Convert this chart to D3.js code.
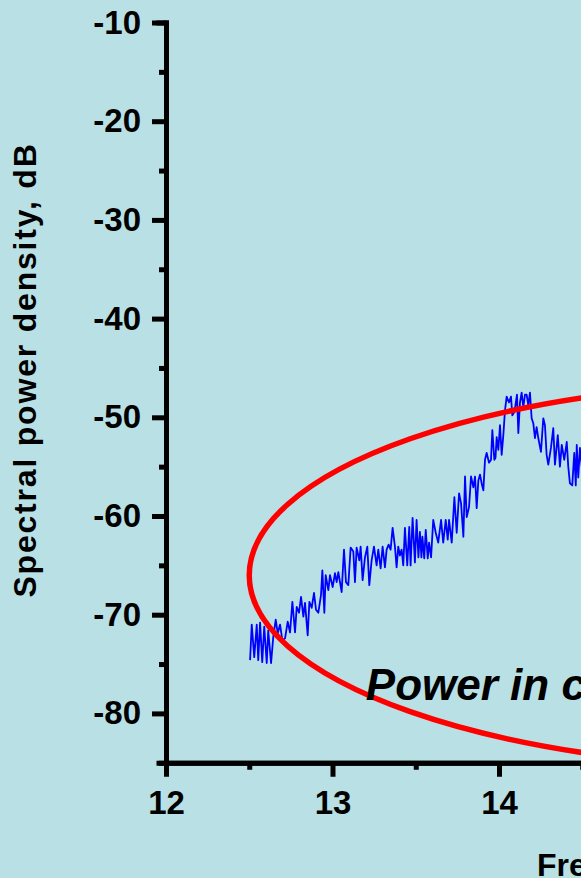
<!DOCTYPE html>
<html>
<head>
<meta charset="utf-8">
<script src="https://cdn.jsdelivr.net/npm/d3@7"></script>
<style>
  body { margin: 0; background: #b9e0e4; overflow: hidden; }
  svg { display: block; background: #b9e0e4; }
  text { font-family: "Liberation Sans", Arial, sans-serif; font-weight: bold; fill: #000; }
</style>
</head>
<body>
<div id="chart"></div>
<script>
// spectrum trace (GHz, dB)
var freqGHz = [
  12.505, 12.515, 12.530, 12.545, 12.554, 12.565, 12.578, 12.590, 12.605, 12.614,
  12.631, 12.644, 12.659, 12.671, 12.685, 12.699, 12.715, 12.731, 12.745, 12.759,
  12.775, 12.785, 12.799, 12.811, 12.825, 12.835, 12.851, 12.861, 12.875, 12.889,
  12.901, 12.915, 12.931, 12.939, 12.951, 12.959, 12.975, 12.985, 13.001, 13.015,
  13.025, 13.035, 13.055, 13.069, 13.081, 13.095, 13.109, 13.125, 13.135, 13.145,
  13.161, 13.169, 13.181, 13.195, 13.209, 13.221, 13.235, 13.249, 13.265, 13.275,
  13.289, 13.301, 13.315, 13.325, 13.337, 13.349, 13.361, 13.375, 13.385, 13.395,
  13.405, 13.415, 13.425, 13.435, 13.449, 13.461, 13.469, 13.481, 13.495, 13.505,
  13.516, 13.525, 13.534, 13.540, 13.551, 13.560, 13.572, 13.580, 13.592, 13.605,
  13.620, 13.635, 13.652, 13.665, 13.680, 13.692, 13.700, 13.716, 13.732, 13.746,
  13.760, 13.772, 13.786, 13.796, 13.806, 13.820, 13.832, 13.846, 13.856, 13.866,
  13.876, 13.886, 13.896, 13.906, 13.916, 13.926, 13.940, 13.952, 13.960, 13.972,
  13.979, 13.986, 13.996, 14.006, 14.016, 14.026, 14.036, 14.046, 14.060, 14.072,
  14.080, 14.088, 14.096, 14.108, 14.116, 14.126, 14.136, 14.146, 14.156, 14.166,
  14.176, 14.186, 14.196, 14.206, 14.216, 14.226, 14.236, 14.252, 14.266, 14.276,
  14.286, 14.296, 14.312, 14.326, 14.336, 14.353, 14.366, 14.377, 14.392, 14.407,
  14.416, 14.426, 14.440, 14.452, 14.461, 14.467, 14.476, 14.486, 14.499
];
var psdDB = [
  -74.6, -71.0, -74.3, -71.0, -74.6, -70.8, -74.8, -71.2, -74.9, -71.6,
  -74.9, -72.3, -70.5, -71.9, -71.0, -72.6, -72.4, -70.7, -71.8, -68.7,
  -71.8, -69.2, -69.8, -68.2, -70.2, -68.8, -72.1, -68.7, -69.3, -67.8,
  -69.5, -69.8, -68.0, -65.5, -69.8, -66.0, -67.5, -66.0, -67.2, -65.8,
  -66.7, -65.7, -67.7, -63.4, -66.7, -67.0, -63.2, -63.6, -66.7, -63.2,
  -64.5, -63.1, -66.5, -64.2, -63.1, -67.0, -64.5, -63.1, -65.0, -63.4,
  -65.3, -63.1, -65.2, -63.4, -62.9, -63.4, -61.2, -63.1, -65.2, -63.1,
  -64.0, -63.4, -65.0, -61.2, -65.0, -61.1, -65.0, -60.2, -64.7, -60.4,
  -64.2, -61.6, -64.2, -62.1, -64.3, -61.4, -64.3, -62.7, -64.2, -60.4,
  -61.7, -62.7, -60.4, -62.7, -60.4, -62.4, -60.4, -62.7, -58.1, -61.7,
  -57.7, -58.7, -62.1, -56.0, -60.1, -59.1, -56.0, -57.1, -56.0, -59.2,
  -56.4, -55.8, -56.7, -57.4, -54.3, -53.6, -54.6, -54.3, -51.3, -54.3,
  -54.1, -52.0, -53.3, -50.8, -53.8, -51.8, -49.3, -47.9, -48.5, -47.9,
  -49.8, -49.6, -49.1, -47.7, -51.6, -48.5, -47.5, -49.0, -47.7, -47.7,
  -48.8, -47.5, -50.1, -50.6, -52.1, -51.0, -52.1, -53.5, -50.1, -50.8,
  -53.8, -54.8, -53.1, -51.1, -54.8, -51.8, -55.0, -52.8, -54.3, -52.5,
  -55.0, -56.7, -56.9, -53.6, -56.9, -52.8, -56.1, -53.1, -55.3
];

var xMajorTicks = [12, 13, 14, 15, 16, 17];
var xMinorTicks = [12.5, 13.5, 14.5, 15.5, 16.5];
var yMajorTicks = [-80, -70, -60, -50, -40, -30, -20, -10];
var yMinorTicks = [-85, -75, -65, -55, -45, -35, -25, -15];

// annotation ellipse (centre in GHz/dB, radii in GHz/dB)
var ellipseCenter = [15.8, -66];
var ellipseRadii = [3.3, 19.55];
var noteText = "Power in carrier";
var noteAt = [13.2, -78.6];

var svgWidth = 581;
var svgHeight = 878;

var margin = {
  top: 22.5,
  left: 166
};

// the plot runs past the right edge of the window (the view is a crop)
var width = 5 * 166.5;
var height = 740.25;

var svg = d3
  .select("#chart")
  .append("svg")
  .attr("width", svgWidth)
  .attr("height", svgHeight);

var chartGroup = svg.append("g")
  .attr("transform", `translate(${margin.left}, ${margin.top})`);

var xLinearScale = d3.scaleLinear()
  .domain([12, 17])
  .range([0, width]);

var yLinearScale = d3.scaleLinear()
  .domain([-85, -10])
  .range([height, 0]);

var trace = freqGHz.map((f, i) => ({ f: f, db: psdDB[i] }));

// blue spectrum
var line = d3.line()
  .x(d => xLinearScale(d.f))
  .y(d => yLinearScale(d.db));

chartGroup.append("path")
  .datum(trace)
  .attr("d", line)
  .attr("fill", "none")
  .attr("stroke", "#0000ff")
  .attr("stroke-width", 1.8)
  .attr("stroke-linejoin", "round");

// red ellipse
chartGroup.append("ellipse")
  .attr("cx", xLinearScale(ellipseCenter[0]))
  .attr("cy", yLinearScale(ellipseCenter[1]))
  .attr("rx", xLinearScale(12 + ellipseRadii[0]) - xLinearScale(12))
  .attr("ry", yLinearScale(-85) - yLinearScale(-85 + ellipseRadii[1]))
  .attr("fill", "none")
  .attr("stroke", "#ff0000")
  .attr("stroke-width", 5.5);

chartGroup.append("text")
  .attr("x", xLinearScale(noteAt[0]))
  .attr("y", yLinearScale(noteAt[1]))
  .style("font-size", "44px")
  .style("font-style", "italic")
  .text(noteText);

// axes: minor ticks first, then major ticks with labels
var yMinor = chartGroup.append("g")
  .call(d3.axisLeft(yLinearScale).tickValues(yMinorTicks).tickSize(7).tickFormat(""));
var xMinor = chartGroup.append("g")
  .attr("transform", `translate(0, ${height})`)
  .call(d3.axisBottom(xLinearScale).tickValues(xMinorTicks).tickSize(7).tickFormat(""));

// plain hyphen for negatives, as in the original
var plainNum = d => String(d);

var yAxis = chartGroup.append("g")
  .call(d3.axisLeft(yLinearScale).tickValues(yMajorTicks).tickFormat(plainNum)
    .tickSize(14).tickSizeOuter(0).tickPadding(11));

var xAxis = chartGroup.append("g")
  .attr("transform", `translate(0, ${height})`)
  .call(d3.axisBottom(xLinearScale).tickValues(xMajorTicks).tickFormat(plainNum)
    .tickSize(14).tickSizeOuter(0).tickPadding(14));

chartGroup.selectAll(".domain")
  .attr("stroke", "#000")
  .attr("stroke-width", 5)
  .attr("stroke-linecap", "square");
chartGroup.selectAll(".tick line")
  .attr("stroke", "#000")
  .attr("stroke-width", 5);
chartGroup.selectAll(".tick text")
  .style("font-size", "33px")
  .style("font-family", "'Liberation Sans', Arial, sans-serif")
  .style("font-weight", "bold");

// axis titles
svg.append("text")
  .attr("transform", "rotate(-90)")
  .attr("x", -370)
  .attr("y", 36)
  .attr("text-anchor", "middle")
  .style("font-size", "32px")
  .style("letter-spacing", "1.8px")
  .text("Spectral power density, dB");

svg.append("text")
  .attr("x", 537)
  .attr("y", 876)
  .style("font-size", "32px")
  .text("Frequency, GHz");
</script>
</body>
</html>
